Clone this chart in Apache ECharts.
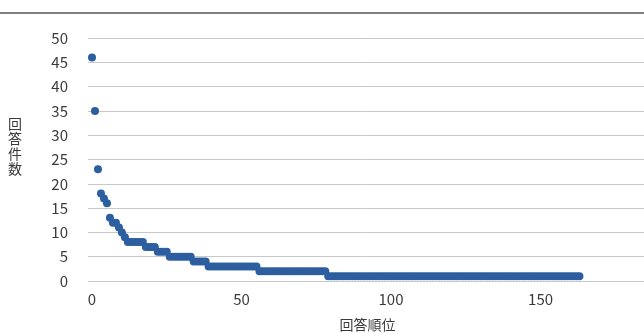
<!DOCTYPE html>
<html>
<head>
<meta charset="utf-8">
<script src="https://cdn.jsdelivr.net/npm/echarts@6/dist/echarts.min.js"></script>
<style>
  html, body { margin: 0; padding: 0; background: #fff; }
  #chart { width: 644px; height: 333px; }
</style>
</head>
<body>
<div id="chart"></div>
<script>
// Number of answers per respondent, sorted by rank (rank 0 = most answers)
const answerCounts = [
  46, 35, 23, 18, 17, 16, 13, 12, 12, 11, 10, 9,
  8, 8, 8, 8, 8, 8,
  7, 7, 7, 7,
  6, 6, 6, 6,
  5, 5, 5, 5, 5, 5, 5, 5,
  4, 4, 4, 4, 4,
  3, 3, 3, 3, 3, 3, 3, 3, 3, 3, 3, 3, 3, 3, 3, 3, 3,
  2, 2, 2, 2, 2, 2, 2, 2, 2, 2, 2, 2, 2, 2, 2, 2, 2, 2, 2, 2, 2, 2, 2,
  1, 1, 1, 1, 1, 1, 1, 1, 1, 1, 1, 1, 1, 1, 1, 1, 1, 1, 1, 1,
  1, 1, 1, 1, 1, 1, 1, 1, 1, 1, 1, 1, 1, 1, 1, 1, 1, 1, 1, 1,
  1, 1, 1, 1, 1, 1, 1, 1, 1, 1, 1, 1, 1, 1, 1, 1, 1, 1, 1, 1,
  1, 1, 1, 1, 1, 1, 1, 1, 1, 1, 1, 1, 1, 1, 1, 1, 1, 1, 1, 1,
  1, 1, 1, 1, 1
];
const xTickLabels = [0, 50, 100, 150];
const yAxisTitle = '回\n答\n件\n数';
const xAxisTitle = '回答順位';

const points = answerCounts.map((v, i) => [i, v]);

const font = '"Noto Sans CJK JP", "Noto Sans", sans-serif';
const textColor = '#3a3a3a';
const chart = echarts.init(document.getElementById('chart'), null, { renderer: 'canvas' });

chart.setOption({
  animation: false,
  backgroundColor: '#ffffff',
  graphic: [{
    type: 'line',
    shape: { x1: 0, y1: 13, x2: 644, y2: 13 },
    style: { stroke: '#808080', lineWidth: 2 }
  }],
  // vertical y-axis caption, stacked one character per line
  title: {
    text: yAxisTitle,
    left: 8,
    top: 116,
    padding: 0,
    textStyle: {
      fontSize: 14,
      lineHeight: 15,
      fontWeight: 'normal',
      color: textColor,
      fontFamily: font
    }
  },
  // plot area runs a little past the right edge of the canvas
  grid: {
    left: 88, top: 38, width: 559, height: 243,
    containLabel: false,
    outerBoundsMode: 'none'
  },
  xAxis: {
    type: 'value',
    min: -1.34,
    max: 185.6,
    splitNumber: 4,
    axisLine: { show: false },
    axisTick: { show: false },
    splitLine: { show: false },
    axisLabel: {
      customValues: xTickLabels,
      margin: 11,
      fontSize: 15,
      color: textColor,
      fontFamily: font
    },
    name: xAxisTitle,
    nameLocation: 'middle',
    nameGap: 44,
    nameTextStyle: {
      fontSize: 14,
      color: textColor,
      fontFamily: font,
      verticalAlign: 'middle'
    }
  },
  yAxis: {
    type: 'value',
    min: 0,
    max: 50,
    interval: 5,
    axisLine: { show: false },
    axisTick: { show: false },
    splitLine: { lineStyle: { color: '#c8c8c8', width: 1 } },
    axisLabel: {
      margin: 20,
      fontSize: 15,
      color: textColor,
      fontFamily: font,
      padding: [7, 0, 0, 0]
    }
  },
  series: [{
    type: 'scatter',
    data: points,
    symbol: 'circle',
    symbolSize: 8,
    itemStyle: { color: '#2d5e9f', opacity: 1 },
    clip: false
  }]
});
</script>
</body>
</html>
